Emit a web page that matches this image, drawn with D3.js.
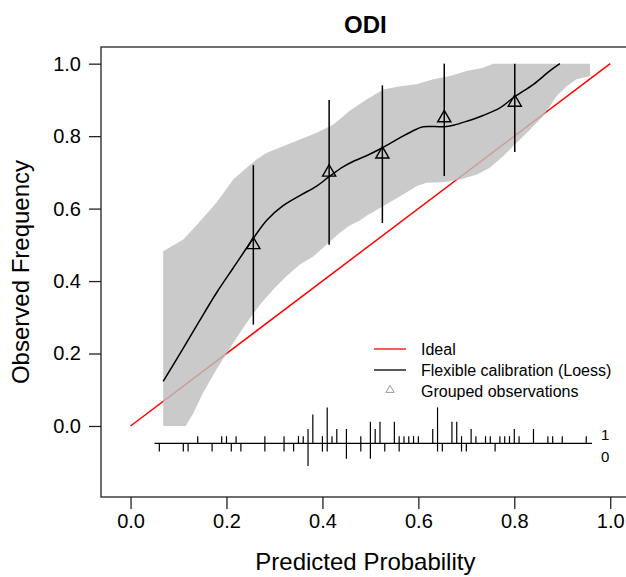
<!DOCTYPE html>
<html>
<head>
<meta charset="utf-8">
<script src="https://cdn.jsdelivr.net/npm/d3@7"></script>
<style>
  body { margin: 0; background: #fff; }
  svg { display: block; }
</style>
</head>
<body>
<script>
// calibration plot data
var axisTicks  = [0, 0.2, 0.4, 0.6, 0.8, 1.0];
var tickLabels = ["0.0", "0.2", "0.4", "0.6", "0.8", "1.0"];

var loessX = [0.068, 0.110, 0.145, 0.179, 0.214, 0.256, 0.284, 0.318, 0.353, 0.388, 0.414, 0.443, 0.467, 0.492,
              0.525, 0.562, 0.596, 0.610, 0.654, 0.673, 0.701, 0.735, 0.770, 0.801, 0.840, 0.874, 0.895];
var loessY = [0.123, 0.215, 0.293, 0.367, 0.436, 0.518, 0.568, 0.608, 0.636, 0.662, 0.688, 0.715, 0.732, 0.746,
              0.768, 0.796, 0.819, 0.826, 0.826, 0.830, 0.841, 0.857, 0.878, 0.909, 0.943, 0.980, 1.0];

var upperX = [0.068, 0.110, 0.145, 0.179, 0.214, 0.242, 0.263, 0.284, 0.318, 0.353, 0.388, 0.423, 0.457, 0.492,
              0.527, 0.562, 0.596, 0.631, 0.666, 0.701, 0.735, 0.756, 0.958];
var upperY = [0.482, 0.515, 0.565, 0.616, 0.680, 0.713, 0.736, 0.754, 0.772, 0.791, 0.809, 0.832, 0.870, 0.901,
              0.929, 0.938, 0.943, 0.957, 0.966, 0.980, 0.989, 1.0, 1.0];

var lowerX = [0.068, 0.115, 0.131, 0.151, 0.179, 0.214, 0.242, 0.270, 0.297, 0.325, 0.353, 0.381, 0.409, 0.437,
              0.457, 0.478, 0.492, 0.527, 0.562, 0.596, 0.617, 0.652, 0.687, 0.722, 0.749, 0.777, 0.805, 0.833,
              0.860, 0.888, 0.909, 0.930, 0.958];
var lowerY = [0, 0, 0.036, 0.091, 0.156, 0.229, 0.285, 0.335, 0.376, 0.413, 0.446, 0.468, 0.501, 0.534,
              0.553, 0.567, 0.580, 0.607, 0.634, 0.662, 0.671, 0.673, 0.680, 0.694, 0.713, 0.745, 0.782, 0.818,
              0.855, 0.910, 0.938, 0.957, 0.966];

var groupX  = [0.256, 0.414, 0.525, 0.654, 0.801];
var groupY  = [0.500, 0.700, 0.750, 0.850, 0.893];
var groupLo = [0.280, 0.500, 0.560, 0.690, 0.756];
var groupHi = [0.720, 0.900, 0.940, 1.000, 1.000];

// distribution of predicted probabilities: events up, non-events down
var rugX = [0.06, 0.11, 0.12, 0.14, 0.17, 0.19, 0.20, 0.21, 0.22, 0.23, 0.28, 0.32, 0.34, 0.35, 0.36, 0.37, 0.38,
            0.40, 0.41, 0.42, 0.43, 0.45, 0.48, 0.50, 0.51, 0.52, 0.53, 0.55, 0.56, 0.57, 0.58, 0.59, 0.60, 0.63,
            0.64, 0.65, 0.67, 0.68, 0.69, 0.70, 0.71, 0.72, 0.74, 0.75, 0.76, 0.77, 0.78, 0.79, 0.80, 0.81, 0.84,
            0.87, 0.88, 0.90, 0.95];
var rug1 = [0, 0, 0, 1, 0, 1, 1, 0, 1, 0, 1, 1, 0, 1, 1, 2, 4,
            1, 5, 1, 2, 2, 1, 3, 2, 3, 0, 3, 1, 1, 1, 1, 1, 2,
            5, 0, 3, 3, 1, 0, 2, 1, 1, 1, 0, 1, 1, 1, 2, 1, 2,
            1, 1, 1, 1];
var rug0 = [1, 1, 1, 0, 1, 0, 0, 1, 0, 1, 1, 1, 1, 0, 0, 3, 0,
            1, 1, 0, 0, 2, 1, 2, 0, 0, 1, 0, 1, 0, 0, 0, 0, 0,
            1, 1, 0, 0, 1, 1, 0, 0, 0, 0, 1, 0, 0, 0, 0, 0, 0,
            0, 0, 0, 0];
var rugRange = [0.05, 0.962];
var rugBase = -0.048;

var legendLabels = ["Ideal", "Flexible calibration (Loess)", "Grouped observations"];

var W = 626, H = 577;
var plotL = 101, plotR = 629.8, plotT = 47, plotB = 497;

var x = d3.scaleLinear().domain([-0.0616, 1.0408]).range([plotL, plotR]);
var y = d3.scaleLinear().domain([-0.196, 1.046]).range([plotB, plotT]);
var rugLen = d3.scaleLinear().domain([0, 5]).range([0, 36]);

var font = "'Liberation Sans', Arial, sans-serif";

var svg = d3.select("body").append("svg")
  .attr("width", W)
  .attr("height", H)
  .style("font-family", font);

// ideal line
svg.append("line")
  .attr("x1", x(0)).attr("y1", y(0))
  .attr("x2", x(1)).attr("y2", y(1))
  .attr("stroke", "#ff0000")
  .attr("stroke-width", 1.5);

// confidence band
var band = upperX.map(function(d, i) { return [d, upperY[i]]; })
  .concat(lowerX.map(function(d, i) { return [d, lowerY[i]]; }).reverse());

svg.append("path")
  .attr("d", d3.line().x(function(d) { return x(d[0]); }).y(function(d) { return y(d[1]); })(band) + "Z")
  .attr("fill", "#bebebe")
  .attr("fill-opacity", 0.82)
  .attr("stroke", "none");

// loess curve
svg.append("path")
  .datum(loessX.map(function(d, i) { return [d, loessY[i]]; }))
  .attr("d", d3.line().curve(d3.curveCatmullRom.alpha(0.5))
    .x(function(d) { return x(d[0]); })
    .y(function(d) { return y(d[1]); }))
  .attr("fill", "none")
  .attr("stroke", "#000")
  .attr("stroke-width", 1.5);

// grouped observations with error bars
var groups = groupX.map(function(d, i) {
  return {x: d, y: groupY[i], lo: groupLo[i], hi: groupHi[i]};
});

svg.selectAll("line.err").data(groups).enter().append("line")
  .attr("class", "err")
  .attr("x1", function(d) { return x(d.x); })
  .attr("x2", function(d) { return x(d.x); })
  .attr("y1", function(d) { return y(d.lo); })
  .attr("y2", function(d) { return y(d.hi); })
  .attr("stroke", "#000")
  .attr("stroke-width", 1.5);

svg.selectAll("path.tri").data(groups).enter().append("path")
  .attr("class", "tri")
  .attr("d", d3.symbol(d3.symbolTriangle, 75))
  .attr("transform", function(d) { return "translate(" + x(d.x) + "," + y(d.y) + ")"; })
  .attr("fill", "none")
  .attr("stroke", "#000")
  .attr("stroke-width", 1.4);

// rug / spike histogram
svg.append("line")
  .attr("x1", x(rugRange[0])).attr("x2", x(rugRange[1]))
  .attr("y1", y(rugBase)).attr("y2", y(rugBase))
  .attr("stroke", "#000")
  .attr("stroke-width", 1.2);

var rug = rugX.map(function(d, i) { return {x: d, n1: rug1[i], n0: rug0[i]}; });

svg.selectAll("line.up").data(rug.filter(function(d) { return d.n1 > 0; })).enter().append("line")
  .attr("class", "up")
  .attr("x1", function(d) { return x(d.x); })
  .attr("x2", function(d) { return x(d.x); })
  .attr("y1", y(rugBase))
  .attr("y2", function(d) { return y(rugBase) - rugLen(d.n1); })
  .attr("stroke", "#000")
  .attr("stroke-width", 1.2);

svg.selectAll("line.down").data(rug.filter(function(d) { return d.n0 > 0; })).enter().append("line")
  .attr("class", "down")
  .attr("x1", function(d) { return x(d.x); })
  .attr("x2", function(d) { return x(d.x); })
  .attr("y1", y(rugBase))
  .attr("y2", function(d) { return y(rugBase) + rugLen(d.n0) + 1; })
  .attr("stroke", "#000")
  .attr("stroke-width", 1.2);

svg.append("text").attr("x", 601).attr("y", 434).text("1")
  .attr("dominant-baseline", "central").style("font-size", "15px");
svg.append("text").attr("x", 601).attr("y", 456).text("0")
  .attr("dominant-baseline", "central").style("font-size", "15px");

// legend
var leg = svg.append("g");
var legY = [349, 370, 391];
leg.append("line").attr("x1", 374).attr("x2", 406).attr("y1", legY[0]).attr("y2", legY[0])
  .attr("stroke", "#ff0000").attr("stroke-width", 1.3);
leg.append("line").attr("x1", 374).attr("x2", 406).attr("y1", legY[1]).attr("y2", legY[1])
  .attr("stroke", "#000").attr("stroke-width", 1.3);
leg.append("path").attr("d", d3.symbol(d3.symbolTriangle, 30))
  .attr("transform", "translate(390," + (legY[2] - 1) + ")")
  .attr("fill", "none").attr("stroke", "#999").attr("stroke-width", 1);
leg.selectAll("text").data(legendLabels).enter().append("text")
  .attr("x", 421)
  .attr("y", function(d, i) { return legY[i]; })
  .attr("dominant-baseline", "central")
  .style("font-size", "16px")
  .text(function(d) { return d; });

// box
svg.append("rect")
  .attr("x", plotL).attr("y", plotT)
  .attr("width", plotR - plotL).attr("height", plotB - plotT)
  .attr("fill", "none").attr("stroke", "#222").attr("stroke-width", 1.3);

// axes
var xAxis = svg.append("g").attr("transform", "translate(0," + plotB + ")")
  .call(d3.axisBottom(x).tickValues(axisTicks).tickSize(12).tickPadding(5)
    .tickFormat(function(d, i) { return tickLabels[i]; }));
var yAxis = svg.append("g").attr("transform", "translate(" + plotL + ",0)")
  .call(d3.axisLeft(y).tickValues(axisTicks).tickSize(12).tickPadding(8)
    .tickFormat(function(d, i) { return tickLabels[i]; }));

[xAxis, yAxis].forEach(function(a) {
  a.select(".domain").remove();
  a.selectAll(".tick line").attr("stroke", "#222").attr("stroke-width", 1.3);
  a.selectAll(".tick text").attr("fill", "#000")
    .style("font-size", "20px").style("font-family", font);
});

// titles
svg.append("text")
  .attr("x", (plotL + plotR) / 2).attr("y", 33)
  .attr("text-anchor", "middle")
  .style("font-size", "24px").style("font-weight", "bold")
  .text("ODI");

svg.append("text")
  .attr("x", (plotL + plotR) / 2).attr("y", 570)
  .attr("text-anchor", "middle")
  .style("font-size", "24px")
  .text("Predicted Probability");

svg.append("text")
  .attr("transform", "translate(29," + ((plotT + plotB) / 2) + ") rotate(-90)")
  .attr("text-anchor", "middle")
  .style("font-size", "24px")
  .text("Observed Frequency");
</script>
</body>
</html>
